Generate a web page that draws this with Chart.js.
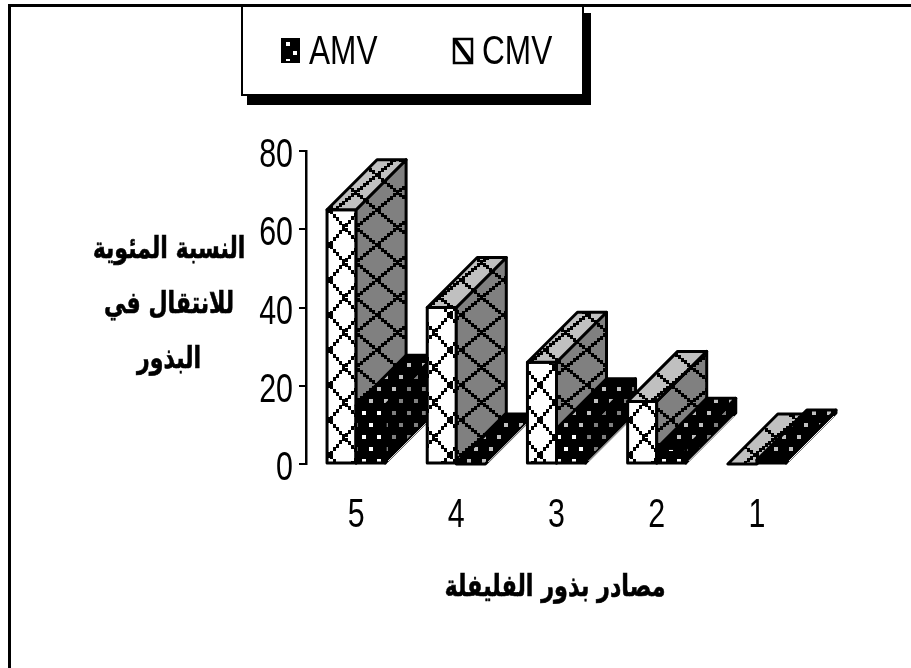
<!DOCTYPE html>
<html>
<head>
<meta charset="utf-8">
<script src="https://cdn.jsdelivr.net/npm/chart.js@4"></script>
<style>
    html, body { margin: 0; padding: 0; background: #fff; overflow: hidden; }
    #wrap { position: absolute; left: 0; top: 0; width: 911px; height: 668px; }
</style>
</head>
<body>
<div id="wrap"><canvas id="c"></canvas></div>
<script>
const categories = ['5', '4', '3', '2', '1'];
const cmvValues = [65, 40, 26, 16, 0];
const amvValues = [15, 0, 9, 4, 1];
const yTicks = [0, 20, 40, 60, 80];
const seriesNames = ['CMV', 'AMV'];
const yTitleLines = ['النسبة المئوية', 'للانتقال في', 'البذور'];
const xTitle = 'مصادر بذور الفليفلة';

// pixel block lattice, like the old office hatch fills
function crossHatch(bg, w) {
    const h = 35, steps = Math.round(w / 3);
    const p = document.createElement('canvas');
    p.width = w;
    p.height = h;
    const g = p.getContext('2d');
    g.fillStyle = bg;
    g.fillRect(0, 0, w, h);
    g.fillStyle = '#000';
    for (let t = 0; t < steps; t++) {
        const x = t * 3, y = Math.round(t * h / steps);
        g.fillRect(x, y, 3, 4);
        g.fillRect(x, h - y - 4, 3, 4);
    }
    return g.createPattern(p, 'repeat');
}

function dots(bg) {
    const p = document.createElement('canvas');
    p.width = 15;
    p.height = 24;
    const g = p.getContext('2d');
    g.fillStyle = '#000';
    g.fillRect(0, 0, 15, 24);
    g.fillStyle = bg;
    g.fillRect(2, 3, 4, 4);
    g.fillRect(9, 15, 4, 4);
    return g.createPattern(p, 'repeat');
}

const DX = 50, DY = 50;

function poly(ctx, pts, fill) {
    ctx.beginPath();
    pts.forEach((q, i) => i ? ctx.lineTo(q[0], q[1]) : ctx.moveTo(q[0], q[1]));
    ctx.closePath();
    ctx.fillStyle = fill;
    ctx.fill();
    ctx.lineWidth = 3;
    ctx.lineJoin = 'round';
    ctx.strokeStyle = '#000';
    ctx.stroke();
}

// Liberation Sans squeezed sideways, there is no narrow face installed
function squeezed(ctx, text, x, y, font, sx, sy, align, heavy) {
    ctx.save();
    ctx.translate(x, y);
    ctx.scale(sx, sy);
    ctx.font = font;
    ctx.textAlign = align;
    ctx.fillStyle = '#000';
    ctx.fillText(text, 0, 0);
    if (heavy) {
        ctx.strokeStyle = '#000';
        ctx.lineWidth = heavy;
        ctx.strokeText(text, 0, 0);
    }
    ctx.restore();
}

const fills = {
    CMV: { front: crossHatch('#fff', 30), side: crossHatch('#808080', 42), top: crossHatch('#c0c0c0', 42) },
    AMV: { front: dots('#fff'), side: dots('#808080'), top: dots('#c0c0c0') }
};

// depth faces, taken from the bar elements so they follow the scales
const depthBars = {
    id: 'depthBars',
    afterDatasetsDraw(chart) {
        const ctx = chart.ctx;
        ctx.save();
        categories.forEach((cat, i) => {
            [0, 1].forEach(d => {
                const bar = chart.getDatasetMeta(d).data[i];
                const f = fills[seriesNames[d]];
                const l = bar.x - bar.width / 2, r = bar.x + bar.width / 2;
                const t = bar.y, b = bar.base;
                if (b - t > 0.5) {
                    poly(ctx, [[l, t], [r, t], [r, b], [l, b]], f.front);
                    poly(ctx, [[r, t], [r + DX, t - DY], [r + DX, b - DY], [r, b]], f.side);
                }
                poly(ctx, [[l, t], [r, t], [r + DX, t - DY], [l + DX, t - DY]], f.top);
                if (d === 1) {
                    // thin light edge on the low bars
                    ctx.strokeStyle = '#fff';
                    ctx.lineWidth = 1;
                    ctx.beginPath();
                    ctx.moveTo(r + 3, b - 2);
                    ctx.lineTo(r + DX - 2, b - DY + 3);
                    ctx.stroke();
                }
            });
        });
        ctx.restore();
    }
};

const decorations = {
    id: 'decorations',
    beforeDraw(chart) {
        const ctx = chart.ctx;
        ctx.save();
        // page frame, only top and left show
        ctx.fillStyle = '#000';
        ctx.fillRect(8, 4, 903, 3);
        ctx.fillRect(8, 4, 3, 664);
        ctx.restore();
    },
    afterDraw(chart) {
        const ctx = chart.ctx;
        ctx.save();
        // legend box with shadow
        ctx.fillStyle = '#000';
        ctx.fillRect(247, 13, 344, 92);
        ctx.fillStyle = '#fff';
        ctx.fillRect(242, 7, 341, 88);
        ctx.strokeStyle = '#000';
        ctx.lineWidth = 2;
        ctx.strokeRect(242, 5, 341, 90);

        const labelFont = '40px "Liberation Sans"';
        ctx.textBaseline = 'alphabetic';
        squeezed(ctx, seriesNames[1], 309, 64, labelFont, 0.79, 1, 'left');
        squeezed(ctx, seriesNames[0], 482, 64, labelFont, 0.79, 1, 'left');
        // legend swatches
        ctx.fillStyle = '#000';
        ctx.fillRect(281, 38, 19, 25);
        ctx.fillStyle = '#fff';
        ctx.fillRect(286, 42, 4, 4);
        ctx.fillRect(293, 51, 4, 4);
        ctx.fillRect(286, 59, 4, 2);
        ctx.strokeStyle = '#000';
        ctx.lineWidth = 2.5;
        ctx.fillStyle = '#fff';
        ctx.fillRect(454, 39, 18, 24);
        ctx.strokeRect(454, 39, 18, 24);
        ctx.lineWidth = 4;
        ctx.beginPath();
        ctx.moveTo(455, 40);
        ctx.lineTo(471, 62);
        ctx.stroke();

        // tick labels, through the chart scales
        const xs = chart.scales.x, ys = chart.scales.y;
        categories.forEach((cat, i) => {
            squeezed(ctx, cat, xs.getPixelForTick(i), 527, labelFont, 0.76, 1, 'center');
        });
        yTicks.forEach(v => {
            squeezed(ctx, String(v), 293, ys.getPixelForValue(v) + 16, labelFont, 0.76, 1, 'right');
        });

        // axis titles, Arabic text
        ctx.direction = 'rtl';
        const arFont = 'bold 24px "DejaVu Sans"';
        yTitleLines.forEach((line, i) => {
            squeezed(ctx, line, 169, 258 + i * 55, arFont, 0.92, 1.25, 'center', 0.5);
        });
        squeezed(ctx, xTitle, 555, 596, arFont, 0.93, 1.25, 'center', 0.5);
        ctx.restore();
    }
};

new Chart(document.getElementById('c'), {
    type: 'bar',
    data: {
        labels: categories,
        datasets: [
            { label: seriesNames[0], data: cmvValues, backgroundColor: fills.CMV.front },
            { label: seriesNames[1], data: amvValues, backgroundColor: fills.AMV.front }
        ]
    },
    plugins: [decorations, depthBars],
    options: {
        responsive: true,
        maintainAspectRatio: false,
        animation: false,
        barPercentage: 1,
        categoryPercentage: 0.58,
        layout: { padding: { left: 299, right: 104, top: 151, bottom: 196 } },
        plugins: { legend: { display: false }, tooltip: { enabled: false } },
        scales: {
            x: {
                grid: { display: false },
                border: { display: false },
                ticks: { display: false }
            },
            y: {
                min: 0,
                max: 80,
                afterBuildTicks(axis) { axis.ticks = yTicks.map(v => ({ value: v })); },
                grid: { display: true, drawOnChartArea: false, drawTicks: true, tickLength: 7, tickColor: '#000', lineWidth: 2 },
                border: { display: true, color: '#000', width: 2.5 },
                ticks: { display: false }
            }
        }
    }
});
</script>
</body>
</html>
